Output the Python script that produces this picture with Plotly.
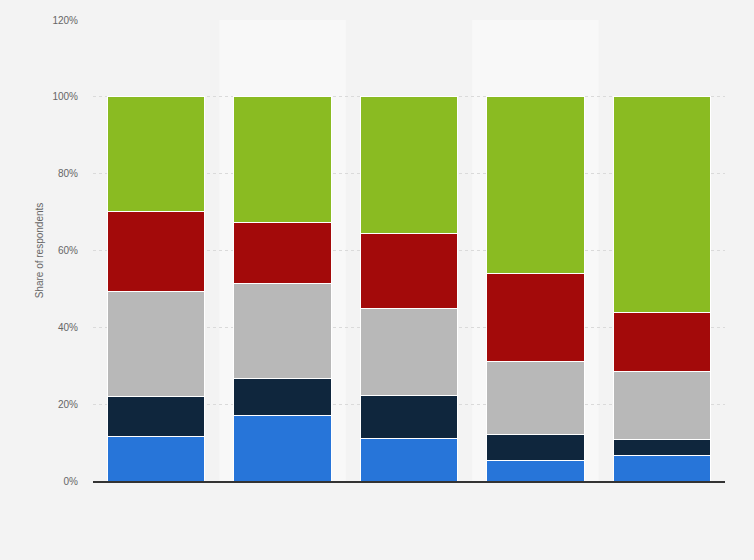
import plotly.graph_objects as go

categories = ["Group 1", "Group 2", "Group 3", "Group 4", "Group 5"]
series_names = ["Series 1", "Series 2", "Series 3", "Series 4", "Series 5"]
s1 = [11.6, 17.1, 11.1, 5.3, 6.6]
s2 = [10.5, 9.7, 11.2, 6.8, 4.2]
s3 = [27.2, 24.5, 22.5, 19.0, 17.7]
s4 = [20.9, 15.9, 19.6, 22.8, 15.3]
s5 = [29.8, 32.8, 35.6, 46.1, 56.2]
colors = ["#2775d9", "#0f263d", "#b8b8b8", "#a30a0a", "#8abb22"]
y_ticks = [0, 20, 40, 60, 80, 100, 120]
y_tick_labels = ["0%", "20%", "40%", "60%", "80%", "100%", "120%"]

fig = go.Figure()
for name, vals, col in zip(series_names, [s1, s2, s3, s4, s5], colors):
    fig.add_trace(go.Bar(
        x=categories, y=vals, name=name,
        marker=dict(color=col, line=dict(color="#ffffff", width=1)),
    ))

shapes = []
for i in [1, 3]:
    shapes.append(dict(type="rect", xref="x", yref="y", x0=i - 0.5, x1=i + 0.5,
                       y0=0, y1=120, fillcolor="#f8f8f8", line=dict(width=0), layer="below"))

fig.update_layout(
    barmode="stack",
    bargap=0.23,
    width=754, height=560,
    margin=dict(l=93, r=29, t=20, b=79),
    paper_bgcolor="#f3f3f3",
    plot_bgcolor="#f3f3f3",
    showlegend=False,
    shapes=shapes,
    font=dict(family="Liberation Sans, Arial, sans-serif", color="#666666", size=10),
    xaxis=dict(range=[-0.5, 4.5], showticklabels=False, showgrid=False,
               showline=True, linecolor="#333333", linewidth=2, ticks="", zeroline=False),
    yaxis=dict(range=[0, 120], tickvals=y_ticks, ticktext=y_tick_labels,
               showgrid=True, gridcolor="#dadada", griddash="dot", gridwidth=1,
               zeroline=False, ticks="", ticklabelstandoff=14,
               tickfont=dict(size=10, color="#666666"),
               title=dict(text="Share of respondents", font=dict(size=10, color="#666666"), standoff=6)),
)

fig.write_html("out.html", config={"displayModeBar": False},
               post_script="document.body.style.margin='0';document.body.style.background='#f3f3f3';")
